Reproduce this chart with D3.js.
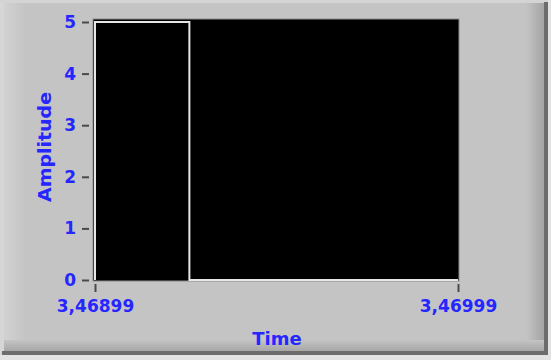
<!DOCTYPE html>
<html><head><meta charset="utf-8">
<script src="https://cdn.jsdelivr.net/npm/d3@7"></script>
<style>html,body{margin:0;padding:0;background:#e2e2e2;}svg{display:block;}</style>
</head><body>
<script>
// Data
const times = [3.46899, 3.46899, 3.46925, 3.46925, 3.46999];
const amplitudes = [0, 5, 5, 0, 0];
const xTickValues = [3.46899, 3.46999];
const xTickLabels = ["3,46899", "3,46999"];
const yTickValues = [0, 1, 2, 3, 4, 5];
const yTickLabels = ["0", "1", "2", "3", "4", "5"];
const xTitle = "Time";
const yTitle = "Amplitude";

const W = 551, H = 360;
const svg = d3.select("body").append("svg").attr("width", W).attr("height", H);
const defs = svg.append("defs");

function grad(id, x1, y1, x2, y2, stops) {
  const g = defs.append("linearGradient").attr("id", id)
    .attr("x1", x1).attr("y1", y1).attr("x2", x2).attr("y2", y2);
  stops.forEach(s => g.append("stop").attr("offset", s[0]).attr("stop-color", s[1]));
}
grad("gl", "0", "0", "1", "0", [[0, "#d2d2d2"], [1, "#c4c4c4"]]);
grad("gr", "0", "0", "1", "0", [[0, "#c4c4c4"], [1, "#a4a4a4"]]);
grad("gb", "0", "0", "0", "1", [[0, "#c4c4c4"], [1, "#a4a4a4"]]);

// Frame
svg.append("rect").attr("x", 0).attr("y", 0).attr("width", W).attr("height", H).attr("fill", "#e2e2e2");
svg.append("rect").attr("x", 0).attr("y", 0).attr("width", 548).attr("height", 355).attr("fill", "#c4c4c4");
svg.append("rect").attr("x", 0).attr("y", 0).attr("width", 4).attr("height", 355).attr("fill", "#d6d6d6");
svg.append("rect").attr("x", 4).attr("y", 2).attr("width", 22).attr("height", 340).attr("fill", "url(#gl)");
svg.append("rect").attr("x", 0).attr("y", 0).attr("width", 548).attr("height", 3).attr("fill", "#d4d4d4");
svg.append("rect").attr("x", 526).attr("y", 3).attr("width", 18).attr("height", 350).attr("fill", "url(#gr)");
svg.append("rect").attr("x", 4).attr("y", 340).attr("width", 540).attr("height", 12).attr("fill", "url(#gb)");
svg.append("rect").attr("x", 544).attr("y", 2).attr("width", 4).attr("height", 353).attr("fill", "#6c6c6c");
svg.append("rect").attr("x", 2).attr("y", 351).attr("width", 546).attr("height", 4).attr("fill", "#6c6c6c");

// Scales
const x = d3.scaleLinear().domain([3.46899, 3.46999]).range([95, 458]);
const y = d3.scaleLinear().domain([0, 5]).range([280, 22]);

// Plot area
svg.append("rect").attr("x", 93).attr("y", 19).attr("width", 366).attr("height", 262)
  .attr("fill", "#000").attr("stroke", "#8c8c8c").attr("stroke-width", 1);

// Signal
const line = d3.line().x((d, i) => x(times[i])).y((d, i) => y(d));
svg.append("path").datum(amplitudes).attr("d", line)
  .attr("fill", "none").attr("stroke", "#e6e6e6").attr("stroke-width", 2);

const blue = "#2626ff";
const font = "'DejaVu Sans', Verdana, sans-serif";

// Y axis
const yAxis = svg.append("g").attr("transform", "translate(89,0)")
  .call(d3.axisLeft(y).tickValues(yTickValues).tickFormat((d, i) => yTickLabels[i]).tickSize(7).tickPadding(6));
yAxis.select(".domain").remove();
yAxis.selectAll(".tick line").attr("stroke", "#4a4a4a").attr("stroke-width", 2);
yAxis.selectAll(".tick text").attr("fill", blue).attr("font-family", font).attr("font-weight", "bold").attr("font-size", 17);

// X axis
const xAxis = svg.append("g").attr("transform", "translate(0,284)")
  .call(d3.axisBottom(x).tickValues(xTickValues).tickFormat((d, i) => xTickLabels[i]).tickSize(8).tickPadding(8));
xAxis.select(".domain").remove();
xAxis.selectAll(".tick line").attr("stroke", "#4a4a4a").attr("stroke-width", 2);
xAxis.selectAll(".tick text").attr("fill", blue).attr("font-family", font).attr("font-weight", "bold").attr("font-size", 17);

// Titles
svg.append("text").attr("x", 277).attr("y", 345).attr("text-anchor", "middle")
  .attr("fill", blue).attr("font-family", font).attr("font-weight", "bold").attr("font-size", 18).text(xTitle);
svg.append("text").attr("transform", "translate(51,147) rotate(-90)").attr("text-anchor", "middle")
  .attr("fill", blue).attr("font-family", font).attr("font-weight", "bold").attr("font-size", 18)
  .attr("textLength", 110).attr("lengthAdjust", "spacingAndGlyphs").text(yTitle);
</script>
</body></html>
